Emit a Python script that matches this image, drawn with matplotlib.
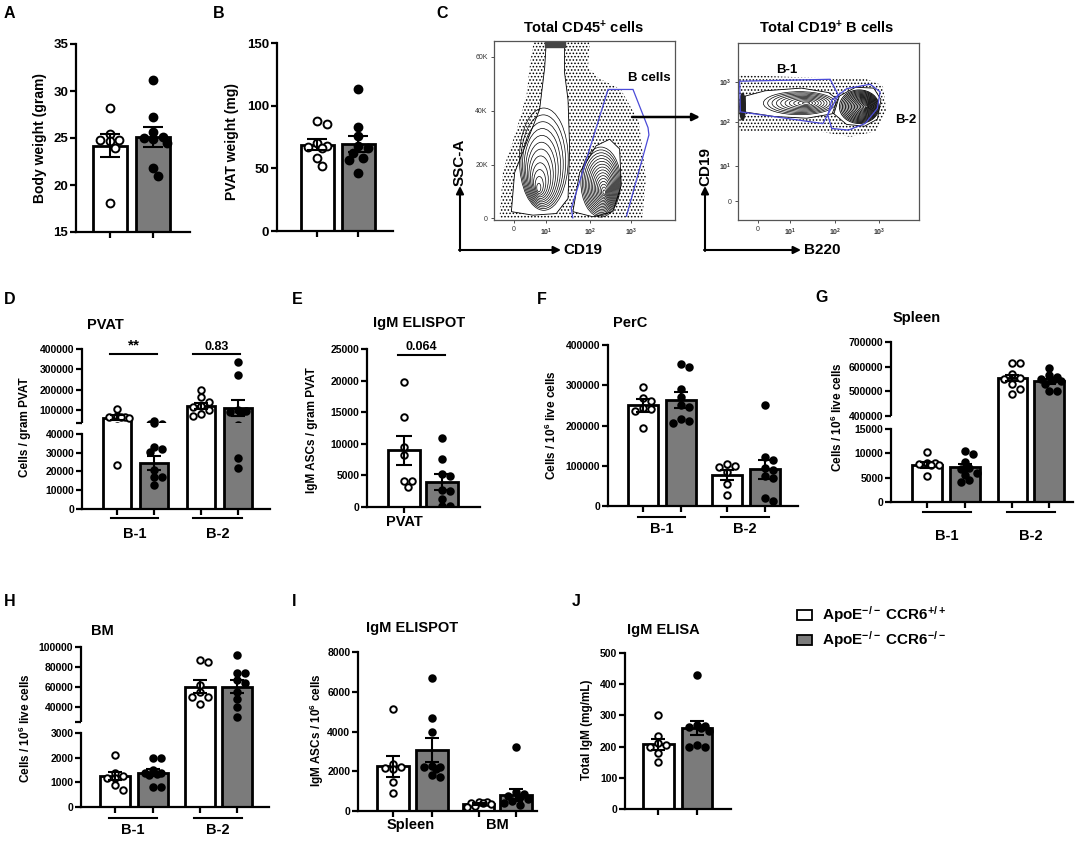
import numpy as np
import matplotlib
matplotlib.use("Agg")
import matplotlib.pyplot as plt
import matplotlib.transforms as mtransforms
from matplotlib.patches import Polygon, Ellipse, Rectangle, FancyArrowPatch

plt.rcParams['font.family'] = ['Liberation Sans', 'DejaVu Sans']
plt.rcParams['font.weight'] = 'bold'
plt.rcParams['axes.labelweight'] = 'bold'
plt.rcParams['mathtext.fontset'] = 'custom'
plt.rcParams['mathtext.rm'] = 'Liberation Sans:bold'
plt.rcParams['mathtext.it'] = 'Liberation Sans:bold'
plt.rcParams['mathtext.bf'] = 'Liberation Sans:bold'
plt.rcParams['hatch.linewidth'] = 0.7

# ---------------- data ----------------
groups = [r'ApoE$^{-/-}$ CCR6$^{+/+}$', r'ApoE$^{-/-}$ CCR6$^{-/-}$']
subsets = ['B-1', 'B-2']

# A: body weight (gram)   order: wt, ko
bw_mean = [24.2, 25.1]
bw_sem = [1.2, 1.05]
bw_pts = [[28.2, 25.4, 24.8, 24.8, 24.7, 23.9, 18.1],
          [31.2, 27.2, 25.6, 25.1, 25.0, 24.9, 24.5, 21.8, 21.0]]

# B: PVAT weight (mg)
pw_mean = [69, 69.5]
pw_sem = [4.5, 6.5]
pw_pts = [[88, 85, 70, 68, 67, 66, 58, 52],
          [113, 83, 76, 68, 66, 62, 58, 57, 46]]

# D: PVAT cells / gram   order: wt B-1, ko B-1, wt B-2, ko B-2
pvat_mean = [63000, 24500, 120000, 110000]
pvat_sem = [10000, 3500, 14000, 38000]
pvat_pts = [[105000, 68000, 66000, 65000, 64000, 63000, 23500],
            [46000, 33200, 31800, 30500, 21000, 17100, 17100, 12700],
            [198000, 162000, 140000, 120000, 115000, 100000, 78000, 70000],
            [335000, 272000, 100000, 95000, 92000, 88000, 27000, 22000]]
pvat_p = ['**', '0.83']

# E: IgM ELISPOT, PVAT
eli_mean = [9000, 4000]
eli_sem = [2300, 1250]
eli_pts = [[19700, 14200, 9500, 8200, 4100, 4100, 3200],
           [10900, 7600, 5300, 4900, 2700, 2500, 1200, 100, 100]]
eli_p = '0.064'

# F: PerC
perc_mean = [250000, 263000, 77000, 91000]
perc_sem = [16000, 19000, 13000, 24000]
perc_pts = [[295000, 268000, 262000, 244000, 240000, 235000, 195000],
            [352000, 345000, 290000, 270000, 250000, 245000, 215000, 210000, 205000],
            [105000, 100000, 98000, 85000, 55000, 28000],
            [250000, 122000, 115000, 95000, 90000, 75000, 70000, 20000, 12000]]

# G: Spleen
spl_mean = [7600, 7100, 553000, 540000]
spl_sem = [600, 700, 13000, 10000]
spl_pts = [[10200, 8000, 8000, 7700, 7600, 7500, 5400],
           [10500, 9800, 8200, 7000, 6700, 6000, 5600, 4500, 4200],
           [615000, 615000, 570000, 555000, 550000, 530000, 510000, 490000],
           [595000, 565000, 560000, 550000, 545000, 540000, 530000, 500000, 500000]]

# H: BM
bm_mean = [1250, 1400, 60000, 60000]
bm_sem = [170, 140, 6500, 6500]
bm_pts = [[2100, 1400, 1250, 1200, 1200, 900, 700],
          [2000, 2000, 1500, 1400, 1400, 1350, 1300, 800, 800],
          [87000, 85000, 62000, 55000, 50000, 50000, 43000],
          [92000, 74000, 74000, 67000, 64000, 55000, 48000, 40000, 30000]]

# I: IgM ELISPOT spleen / BM
asc_sites = ['Spleen', 'BM']
asc_mean = [2250, 3050, 350, 800]
asc_sem = [530, 600, 60, 300]
asc_pts = [[5150, 2350, 2200, 2150, 2100, 1450, 900],
           [6700, 4700, 3950, 2250, 2200, 2200, 2100, 1800, 1700],
           [450, 450, 400, 400, 350, 250, 200],
           [3200, 950, 850, 750, 700, 600, 500, 400, 300]]

# J: IgM ELISA (mg/mL)
igm_mean = [207, 260]
igm_sem = [18, 22]
igm_pts = [[300, 235, 210, 205, 200, 180, 150],
           [428, 270, 265, 262, 260, 250, 205, 200, 200]]

# C: flow gates (display units, x 0-1; left y in K SSC-A, right y 0-1)
bcell_gate = [(0.436, 0.0), (0.427, 3.7), (0.63, 47.9), (0.768, 47.9), (0.851, 33.7),
              (0.856, 31.0), (0.731, 0.6)]
b1_gate = [(0.009, 0.784), (0.509, 0.795), (0.555, 0.705), (0.469, 0.545), (0.013, 0.611)]
b2_gate = [(0.518, 0.677), (0.601, 0.742), (0.730, 0.767), (0.785, 0.724), (0.770, 0.630),
           (0.702, 0.545), (0.610, 0.508), (0.518, 0.517), (0.496, 0.592), (0.518, 0.677)]

W, H = 1084, 842
fig = plt.figure(figsize=(W / 100, H / 100), dpi=100)
FILLS = ['white', '#7b7b7b']


def px_ax(l, t, r, b):
    return fig.add_axes([l / W, 1 - b / H, (r - l) / W, (b - t) / H])


def ftext(x, y, s, **kw):
    kw.setdefault('ha', 'center')
    kw.setdefault('va', 'center')
    fig.text(x / W, 1 - y / H, s, **kw)


def style(ax, fs=7.5, lw=1.6):
    for s in ['top', 'right']:
        ax.spines[s].set_visible(False)
    for s in ['left', 'bottom']:
        ax.spines[s].set_linewidth(lw)
    ax.tick_params(width=lw, length=4, labelsize=fs, pad=1.5)


def swarm_x(vals, x0, ax_for, xppu, d, lim):
    # simple beeswarm: spread overlapping points sideways, kept inside the bar
    placed = []
    res = [0] * len(vals)
    order = sorted(range(len(vals)), key=lambda i: -vals[i])
    cands = [0] + [s * k * 0.5 * d for k in range(1, 8) for s in (1, -1)]
    cands = [c for c in cands if abs(c) <= lim]
    for i in order:
        y = ax_for(vals[i]).transData.transform((0, vals[i]))[1]
        best, best_gap = 0, -1
        for dx in cands:
            gap = min([np.hypot(dx - px, y - py) for px, py in placed] + [1e9])
            if gap >= 0.8 * d:
                best = dx
                break
            if gap > best_gap:
                best, best_gap = dx, gap
        placed.append((best, y))
        res[i] = x0 + best / xppu
    return res


def bars(axes, pos, means, sems, pts, width=0.78, d=8, s=22, cap=4):
    lo = axes[0]

    def ax_for(v):
        if len(axes) == 1 or v <= lo.get_ylim()[1]:
            return lo
        return axes[1]
    xppu = lo.bbox.width / np.diff(lo.get_xlim())[0]
    lim = 0.5 * width * xppu
    for k, (p, m, e, v) in enumerate(zip(pos, means, sems, pts)):
        xs = swarm_x(v, p, ax_for, xppu, d, lim)
        for ax in axes:
            ax.bar(p, m, width, color=FILLS[k % 2], edgecolor='black', linewidth=2, zorder=1)
            ax.scatter(xs, v, s=s, facecolor='white' if k % 2 == 0 else 'black',
                       edgecolor='black', linewidths=1.4, zorder=3)
            ax.errorbar(p, m, yerr=e, fmt='none', ecolor='black', elinewidth=1.5,
                        capsize=cap, capthick=1.5, zorder=4)


def group_labels(ax, spans, labels, line_px, text_px, fs=10.5):
    trans = mtransforms.blended_transform_factory(ax.transData, ax.transAxes)
    h = ax.bbox.height
    for (a, b), lab in zip(spans, labels):
        ax.plot([a, b], [-line_px / h] * 2, transform=trans, color='black', lw=1.5, clip_on=False)
        ax.text((a + b) / 2, -text_px / h, lab, transform=trans, ha='center', va='center', fontsize=fs)


def broken(upper, lower, xlim, uylim, uticks, ulabels, lylim, lticks, ltop):
    for ax in (upper, lower):
        style(ax)
        ax.set_xlim(*xlim)
    upper.set_ylim(*uylim)
    upper.spines['bottom'].set_visible(False)
    upper.tick_params(axis='x', bottom=False, labelbottom=False)
    upper.set_yticks(uticks)
    upper.set_yticklabels(ulabels)
    upper.spines['left'].set_bounds(uylim[0], uylim[1])
    lower.set_ylim(*lylim)
    lower.set_yticks(lticks)
    lower.spines['left'].set_bounds(0, ltop)


# ---------------- panel A ----------------
axA = px_ax(76, 44, 190, 232)
style(axA, fs=9.5)
axA.set_xlim(-0.79, 1.86)
axA.set_ylim(15, 35)
axA.set_yticks([15, 20, 25, 30, 35])
axA.set_xticks([0, 1])
axA.set_xticklabels(['', ''])
bars([axA], [0, 1], bw_mean, bw_sem, bw_pts, width=0.77, d=9.5, s=32, cap=7)
ftext(40, 138, 'Body weight (gram)', rotation=90, fontsize=10)

# ---------------- panel B ----------------
axB = px_ax(277, 43, 393, 231)
style(axB, fs=9.5)
axB.set_xlim(-0.98, 1.85)
axB.set_ylim(0, 150)
axB.set_yticks([0, 50, 100, 150])
axB.set_xticks([0, 1])
axB.set_xticklabels(['', ''])
bars([axB], [0, 1], pw_mean, pw_sem, pw_pts, width=0.8, d=9.5, s=32, cap=7)
ftext(232, 141, 'PVAT weight (mg)', rotation=90, fontsize=10)

# ---------------- panel C (flow cytometry) ----------------
def flow_style(ax, xt, xtl, yt, ytl):
    for s in ax.spines.values():
        s.set_color('#555555')
        s.set_linewidth(0.9)
    ax.set_xticks(xt)
    ax.set_xticklabels(xtl, fontsize=5, fontweight='normal')
    ax.set_yticks(yt)
    ax.set_yticklabels(ytl, fontsize=5, fontweight='normal')
    ax.tick_params(length=2.5, width=0.6, pad=2, colors='#333333')


def nest(ax, c_in, c_out, w, h, n, lw=0.5):
    for k in range(n):
        f = (k + 1) / n
        cx = c_in[0] + (c_out[0] - c_in[0]) * f
        cy = c_in[1] + (c_out[1] - c_in[1]) * f
        ax.add_patch(Ellipse((cx, cy), w * f, h * f, fill=False, ec='black', lw=lw, zorder=3))


dec_x = [0.109, 0.29, 0.532, 0.759]
dec_lab = ['0', '$10^1$', '$10^2$', '$10^3$']

axL = px_ax(494, 41, 675, 220)
axL.set_xlim(0, 1)
axL.set_ylim(-0.6, 65.9)
flow_style(axL, dec_x, dec_lab, [0, 20, 40, 60], ['0', '20K', '40K', '60K'])
left_cloud = [(0.03, 0), (0.05, 18), (0.12, 32), (0.18, 46), (0.20, 58), (0.22, 65.9),
              (0.53, 65.9), (0.52, 56), (0.58, 52), (0.70, 48), (0.80, 36), (0.84, 15), (0.82, 0)]
axL.add_patch(Polygon(left_cloud, closed=True, fc='none', ec='black', hatch='.....', lw=0, zorder=1))
pop1 = [(0.096, 2.5), (0.114, 17), (0.179, 28), (0.252, 40.5), (0.28, 56), (0.289, 65.9),
        (0.39, 65.9), (0.39, 54), (0.409, 44), (0.418, 26), (0.409, 7.4), (0.344, 1.8), (0.215, 1.2)]
pop2 = [(0.436, 2.5), (0.473, 17), (0.565, 27), (0.639, 29.4), (0.694, 25.8), (0.703, 12.3),
        (0.657, 2.5), (0.547, 0.6)]
for pp in (pop1, pop2):
    axL.add_patch(Polygon(pp, closed=True, fc='white', ec='black', lw=0.6, zorder=2))
axL.add_patch(Rectangle((0.28, 63.6), 0.11, 2.3, color='#444444', zorder=2))
nest(axL, (0.245, 10.5), (0.275, 22), 0.27, 38, 12)
nest(axL, (0.61, 9.5), (0.59, 13.5), 0.22, 26, 16)
axL.add_patch(Polygon(bcell_gate, closed=False, fill=False, ec='#4b4bd8', lw=0.9, zorder=4))
axL.text(0.86, 52, 'B cells', ha='center', va='center', fontsize=9.5, zorder=5)

axR = px_ax(738, 43, 919, 220)
axR.set_xlim(0, 1)
axR.set_ylim(0, 1)
flow_style(axR, [0.108, 0.289, 0.537, 0.779], dec_lab,
           [0.107, 0.303, 0.553, 0.78], ['0', '$10^1$', '$10^2$', '$10^3$'])
right_cloud = [(0.005, 0.50), (0.005, 0.82), (0.25, 0.81), (0.52, 0.80), (0.70, 0.80),
               (0.80, 0.76), (0.82, 0.62), (0.76, 0.50), (0.62, 0.47), (0.45, 0.50), (0.25, 0.50)]
axR.add_patch(Polygon(right_cloud, closed=True, fc='none', ec='black', hatch='.....', lw=0, zorder=1))
popb1 = [(0.04, 0.61), (0.04, 0.70), (0.15, 0.73), (0.35, 0.745), (0.50, 0.72), (0.55, 0.68),
         (0.52, 0.60), (0.38, 0.575), (0.20, 0.585)]
popb2 = [(0.53, 0.60), (0.56, 0.70), (0.65, 0.75), (0.75, 0.745), (0.79, 0.68), (0.77, 0.57),
         (0.70, 0.53), (0.60, 0.54)]
for pp in (popb1, popb2):
    axR.add_patch(Polygon(pp, closed=True, fc='white', ec='black', lw=0.6, zorder=2))
axR.add_patch(Ellipse((0.025, 0.64), 0.03, 0.15, color='#222222', zorder=2))
nest(axR, (0.38, 0.66), (0.34, 0.66), 0.40, 0.13, 10)
nest(axR, (0.71, 0.64), (0.67, 0.64), 0.22, 0.19, 18, lw=0.6)
axR.add_patch(Polygon(b1_gate, closed=True, fill=False, ec='#4b4bd8', lw=0.9, zorder=4))
axR.add_patch(Polygon(b2_gate, closed=True, fill=False, ec='#4b4bd8', lw=0.9, zorder=4))
axR.text(0.27, 0.85, 'B-1', ha='center', va='center', fontsize=9.5, zorder=5)
axR.text(0.87, 0.565, 'B-2', ha='left', va='center', fontsize=9.5, zorder=5, clip_on=False)

ftext(583, 28, r'Total CD45$^{+}$ cells', fontsize=10.5)
ftext(827, 28, r'Total CD19$^{+}$ B cells', fontsize=10.5)


def farrow(p0, p1, lw=1.5):
    fig.add_artist(FancyArrowPatch((p0[0] / W, 1 - p0[1] / H), (p1[0] / W, 1 - p1[1] / H),
                                   transform=fig.transFigure, arrowstyle='-|>',
                                   mutation_scale=11, lw=lw, color='black', shrinkA=0, shrinkB=0))


farrow((632, 117), (700, 117), lw=1.8)
farrow((460, 251), (460, 186))
farrow((459, 250), (561, 250))
farrow((705, 251), (705, 186))
farrow((704, 250), (801, 250))
ftext(460, 162, 'SSC-A', rotation=90, fontsize=11)
ftext(563, 250, 'CD19', ha='left', fontsize=11)
ftext(705, 166, 'CD19', rotation=90, fontsize=11)
ftext(804, 250, 'B220', ha='left', fontsize=11)

# ---------------- panel D ----------------
posD = [0, 1, 2.25, 3.25]
dU = px_ax(82, 349, 270, 423)
dL = px_ax(82, 422.5, 270, 509)
broken(dU, dL, (-0.94, 4.11), (36000, 400000), [36000, 100000, 200000, 300000, 400000],
       ['', '100000', '200000', '300000', '400000'], (0, 46100), [0, 10000, 20000, 30000, 40000], 40000)
dL.set_xticks(posD)
dL.set_xticklabels([''] * 4)
bars([dL, dU], posD, pvat_mean, pvat_sem, pvat_pts, width=0.76, d=8, s=22, cap=5)
group_labels(dL, [(-0.15, 1.1), (2.05, 3.35)], subsets, 9, 25)
for (a, b), lab, fs in zip([(-0.19, 1.08), (2.04, 3.3)], pvat_p, [11, 9]):
    dU.plot([a, b], [376000, 376000], color='black', lw=1.5, clip_on=False)
    dU.text((a + b) / 2, 381000, lab, ha='center', va='bottom', fontsize=fs, clip_on=False)
ftext(105, 325, 'PVAT', fontsize=10.5)
ftext(25, 427, 'Cells / gram PVAT', rotation=90, fontsize=8.5)

# ---------------- panel E ----------------
axE = px_ax(367, 349, 480, 507)
style(axE)
axE.set_xlim(-0.97, 2.0)
axE.set_ylim(0, 25000)
axE.set_yticks([0, 5000, 10000, 15000, 20000, 25000])
axE.set_xticks([0])
axE.set_xticklabels(['PVAT'], fontsize=10.5)
bars([axE], [0, 1], eli_mean, eli_sem, eli_pts, width=0.83, d=8, s=22, cap=6)
axE.plot([-0.16, 1.08], [24000, 24000], color='black', lw=1.5, clip_on=False)
axE.text(0.46, 24300, eli_p, ha='center', va='bottom', fontsize=9, clip_on=False)
ftext(419, 323, 'IgM ELISPOT', fontsize=10.5)
ftext(312, 430, 'IgM ASCs / gram PVAT', rotation=90, fontsize=8.5)

# ---------------- panel F ----------------
posF = [0, 1, 2.2, 3.2]
axF = px_ax(608, 345, 798, 506)
style(axF)
axF.set_xlim(-0.92, 4.07)
axF.set_ylim(0, 400000)
axF.set_yticks([0, 100000, 200000, 300000, 400000])
axF.set_xticks(posF)
axF.set_xticklabels([''] * 4)
bars([axF], posF, perc_mean, perc_sem, perc_pts, width=0.79, d=8, s=22, cap=5)
group_labels(axF, [(-0.12, 1.1), (2.05, 3.3)], subsets, 11, 23)
ftext(630, 323, 'PerC', fontsize=10.5)
ftext(551, 425, r'Cells / 10$^{6}$ live cells', rotation=90, fontsize=8.5)

# ---------------- panel G ----------------
posG = [0, 1, 2.24, 3.2]
gU = px_ax(891, 342, 1073, 416)
gL = px_ax(891, 415.5, 1073, 502)
broken(gU, gL, (-0.95, 3.83), (400000, 700000), [400000, 500000, 600000, 700000],
       ['400000', '500000', '600000', '700000'], (0, 17760), [0, 5000, 10000, 15000], 15000)
gL.set_xticks(posG)
gL.set_xticklabels([''] * 4)
bars([gL, gU], posG, spl_mean, spl_sem, spl_pts, width=0.78, d=8, s=22, cap=5)
group_labels(gL, [(-0.1, 1.15), (2.1, 3.35)], subsets, 10, 34)
ftext(917, 318, 'Spleen', fontsize=10.5)
ftext(837, 417, r'Cells / 10$^{6}$ live cells', rotation=90, fontsize=8.5)

# ---------------- panel H ----------------
posH = [0, 1, 2.25, 3.22]
hU = px_ax(81, 647, 269, 722)
hL = px_ax(81, 721.5, 269, 807)
broken(hU, hL, (-0.9, 4.07), (24500, 100000), [24500, 40000, 60000, 80000, 100000],
       ['', '40000', '60000', '80000', '100000'], (0, 3478), [0, 1000, 2000, 3000], 3000)
hL.set_xticks(posH)
hL.set_xticklabels([''] * 4)
bars([hL, hU], posH, bm_mean, bm_sem, bm_pts, width=0.78, d=8, s=22, cap=5)
group_labels(hL, [(-0.15, 1.1), (2.1, 3.35)], subsets, 11, 23)
ftext(102, 631, 'BM', fontsize=10.5)
ftext(25, 728, r'Cells / 10$^{6}$ live cells', rotation=90, fontsize=8.5)

# ---------------- panel I ----------------
posI = [0, 1, 2.2, 3.15]
axI = px_ax(358, 652, 537, 811)
style(axI)
axI.set_xlim(-0.9, 3.69)
axI.set_ylim(0, 8000)
axI.set_yticks([0, 2000, 4000, 6000, 8000])
axI.set_xticks(posI)
axI.set_xticklabels([''] * 4)
bars([axI], posI, asc_mean, asc_sem, asc_pts, width=0.8, d=8, s=22, cap=5)
transI = mtransforms.blended_transform_factory(axI.transData, axI.transAxes)
for xc, lab in zip([0.45, 2.67], asc_sites):
    axI.text(xc, -14 / axI.bbox.height, lab, transform=transI, ha='center', va='center', fontsize=10.5)
ftext(412, 628, 'IgM ELISPOT', fontsize=10.5)
ftext(317, 730, r'IgM ASCs / 10$^{6}$ cells', rotation=90, fontsize=8.5)

# ---------------- panel J ----------------
axJ = px_ax(625, 653, 731, 809)
style(axJ)
axJ.set_xlim(-0.85, 1.87)
axJ.set_ylim(0, 500)
axJ.set_yticks([0, 100, 200, 300, 400, 500])
axJ.set_xticks([0, 1])
axJ.set_xticklabels(['', ''])
bars([axJ], [0, 1], igm_mean, igm_sem, igm_pts, width=0.79, d=8, s=22, cap=5)
ftext(663, 630, 'IgM ELISA', fontsize=10.5)
ftext(587, 730, 'Total IgM (mg/mL)', rotation=90, fontsize=8.5)

# ---------------- legend ----------------
for k, (lab, yc) in enumerate(zip(groups, [615, 640])):
    fig.add_artist(Rectangle((797 / W, 1 - (yc + 5) / H), 15 / W, 10 / H, transform=fig.transFigure,
                             fc=FILLS[k], ec='black', lw=1.3))
    ftext(822, yc, lab, ha='left', fontsize=11)

# ---------------- panel letters ----------------
for lab, x, y in [('A', 4, 14), ('B', 213, 14), ('C', 436, 14), ('D', 4, 299), ('E', 292, 299),
                  ('F', 537, 299), ('G', 815, 297), ('H', 4, 602), ('I', 292, 602), ('J', 572, 602)]:
    ftext(x, y, lab, ha='left', fontsize=11.5)

fig.savefig('out.png', dpi=100)
